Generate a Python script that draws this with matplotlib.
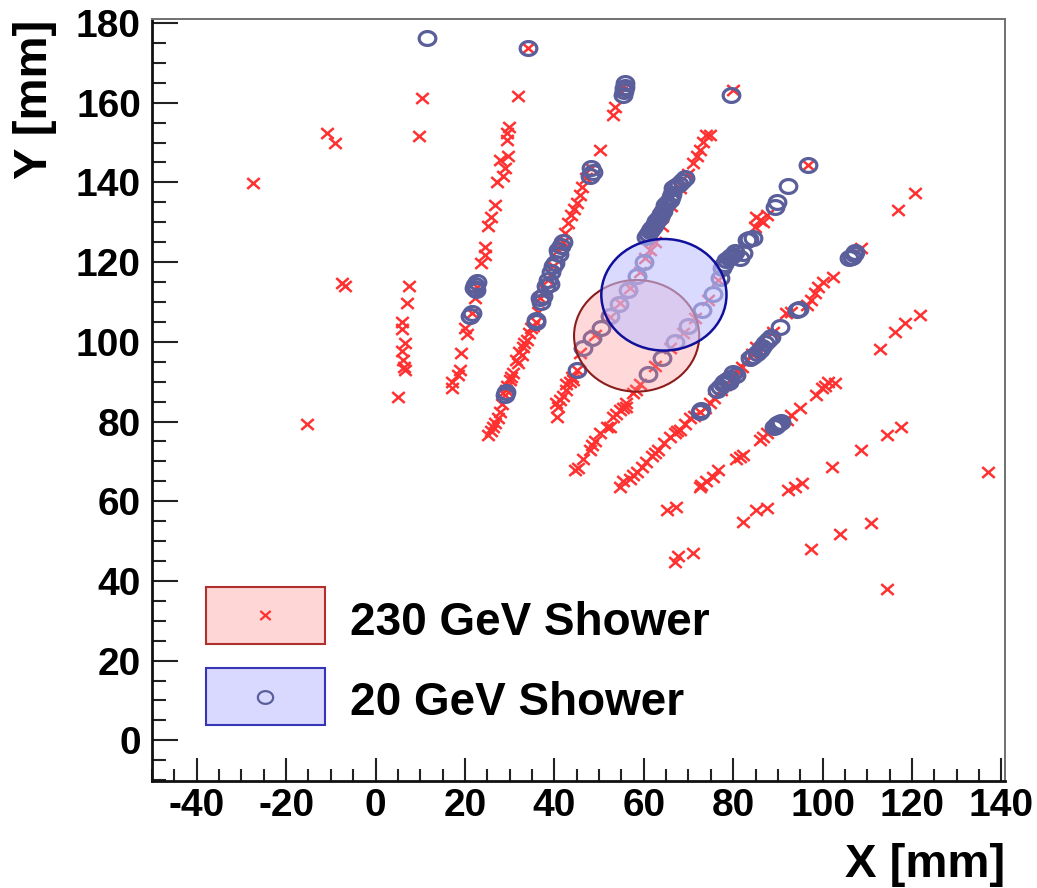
import numpy as np
import matplotlib
matplotlib.use('Agg')
import matplotlib.pyplot as plt
from matplotlib.path import Path
from matplotlib.patches import Circle, Rectangle
from matplotlib.ticker import MultipleLocator

plt.rcParams['font.family'] = ['Liberation Sans', 'DejaVu Sans']
plt.rcParams['font.weight'] = 'bold'
plt.rcParams['axes.unicode_minus'] = False

# ---------------- data (mm) ----------------
# 230 GeV shower hits (red crosses)
red_pts = [
    # sparse
    (-27.4, 139.8), (-15.4, 79.5), (-10.8, 152.4), (-9.1, 150.0), (-7.6, 114.8), (-6.9, 113.9),
    (10.5, 161.2), (9.7, 151.7), (31.9, 161.6), (34.1, 173.7), (5.1, 86.1),
    # track A
    (7.5, 114.0), (7.1, 109.8), (6.0, 105.0), (6.0, 103.1), (6.6, 99.6), (6.0, 97.6),
    (6.2, 95.4), (6.3, 93.6), (6.5, 92.9),
    # track B
    (29.9, 154.0), (29.5, 152.5), (29.5, 150.7), (29.7, 146.7), (27.8, 145.7), (28.9, 143.6),
    (28.4, 141.6), (27.1, 140.0), (26.7, 134.4), (25.9, 131.4), (25.2, 129.1), (24.4, 123.9),
    (24.4, 121.8), (23.6, 119.9), (22.6, 113.8), (22.2, 110.9), (21.5, 107.2), (20.0, 103.4),
    (20.4, 101.9), (19.2, 97.3), (18.9, 92.9), (18.5, 91.7), (17.0, 90.0), (17.0, 88.3),
    # track C
    (25.2, 76.6), (25.8, 77.5), (26.3, 78.7), (26.8, 79.7), (27.4, 80.8), (27.8, 82.4),
    (28.3, 84.5), (28.9, 86.6), (29.2, 88.0), (29.5, 89.0), (30.0, 90.4), (30.4, 91.2),
    (30.8, 92.1), (31.4, 95.5), (31.9, 94.6), (32.2, 97.5), (32.7, 96.7), (33.0, 98.8),
    (33.3, 99.6), (33.8, 100.5), (34.3, 102.2), (34.8, 103.5), (35.2, 104.0), (35.9, 105.0),
    (36.3, 107.5), (36.8, 110.9), (37.9, 113.0), (38.6, 115.5), (39.2, 117.0), (39.7, 118.9),
    (40.8, 123.1), (41.5, 124.5), (42.0, 125.1), (42.3, 127.2), (43.1, 129.8), (43.8, 131.8),
    (44.4, 133.3), (45.0, 134.8), (45.7, 136.9), (46.1, 138.9), (47.0, 141.0), (48.3, 143.6),
    (50.2, 148.2), (53.1, 157.0), (53.5, 159.0), (55.0, 162.8), (55.4, 164.1),
    # track D
    (40.5, 81.2), (40.4, 84.6), (40.8, 83.7), (41.2, 85.3), (41.9, 86.4), (42.7, 87.9),
    (42.7, 89.3), (43.5, 89.8), (44.2, 90.4), (43.9, 91.2), (45.0, 92.9),
    (45.7, 97.2), (49.0, 101.7), (52.4, 106.2), (54.6, 109.7), (56.9, 113.5), (59.1, 117.5),
    (60.3, 121.0), (61.5, 123.0), (62.5, 125.0), (64.0, 129.0), (66.0, 134.0), (68.2, 138.5),
    (69.9, 142.1), (71.0, 144.8), (72.0, 146.5), (72.5, 148.2), (73.2, 150.2), (74.0, 151.9),
    (74.8, 151.9),
    # track E
    (44.6, 67.8), (45.2, 68.3), (46.5, 70.5), (47.9, 72.8), (48.5, 74.0), (49.0, 75.0),
    (50.2, 77.0), (51.7, 78.7), (52.4, 78.7), (53.1, 81.2), (53.8, 81.8), (54.6, 82.9),
    (55.3, 83.5), (56.1, 83.7), (56.1, 84.6), (57.6, 87.1), (58.3, 88.0), (59.1, 89.4),
    (62.5, 93.9), (65.8, 98.4), (68.7, 102.2), (71.4, 106.0), (74.3, 110.5), (76.6, 115.5),
    (84.8, 128.9), (85.2, 131.4), (85.9, 130.6), (86.6, 130.1), (87.5, 131.8), (96.8, 144.4),
    (80.0, 163.2),
    # track F
    (54.6, 63.6), (55.3, 65.0), (56.9, 65.7), (57.7, 66.5), (58.4, 67.4), (59.5, 68.7),
    (60.6, 69.9), (61.8, 71.3), (62.5, 72.0), (63.2, 72.8), (64.5, 74.5), (65.8, 76.2),
    (66.9, 77.1), (67.5, 77.5), (68.1, 77.9), (69.2, 79.3), (70.3, 80.8), (71.2, 81.5),
    (72.5, 82.4), (73.6, 83.5), (74.8, 84.6), (75.8, 86.0), (77.2, 88.0), (78.1, 89.2),
    (79.2, 90.5), (80.8, 92.8), (81.9, 93.8), (83.0, 95.4), (84.2, 97.0), (85.2, 98.8),
    (89.0, 102.5), (91.9, 107.2), (93.0, 107.5), (96.4, 109.2), (97.3, 110.5), (98.3, 112.2),
    (99.0, 113.8), (100.1, 115.1), (102.3, 116.3), (108.7, 123.5),
    # track G
    (72.5, 63.6), (72.9, 64.0), (74.0, 65.0), (75.5, 66.1), (76.6, 67.8), (80.7, 70.7),
    (81.5, 71.2), (82.2, 71.6), (86.0, 75.3), (86.7, 76.0), (87.5, 77.0), (92.0, 80.5),
    (93.0, 81.6), (94.9, 83.3), (98.6, 86.6), (99.8, 88.3), (100.5, 89.0), (101.2, 90.0),
    (102.7, 89.6),
    # outer hits
    (65.1, 57.8), (67.3, 58.6), (66.9, 44.8), (67.7, 46.2), (70.9, 47.1), (82.1, 54.8),
    (85.2, 57.8), (87.5, 58.2), (92.3, 62.8), (93.8, 63.5), (95.3, 64.5), (97.5, 47.9),
    (102.0, 68.6), (104.0, 51.7), (108.7, 72.8), (110.9, 54.6), (114.3, 76.6), (114.5, 38.1),
    (117.6, 78.7), (112.8, 98.1), (116.1, 102.5), (118.4, 104.6), (121.8, 106.7), (116.9, 133.1),
    (120.6, 137.3), (137.0, 67.4),
]
red_x = [p[0] for p in red_pts]
red_y = [p[1] for p in red_pts]

# 20 GeV shower hits (blue circles)
blue_pts = [
    (11.4, 176.2), (34.1, 173.7),
    (22.0, 113.5), (22.3, 114.3), (22.6, 115.0), (22.4, 113.0), (21.5, 107.3), (21.2, 106.6),
    (28.9, 86.6), (29.2, 87.4), (35.9, 105.0), (36.0, 105.5), (36.8, 110.9), (37.1, 110.0),
    (37.5, 111.5), (38.2, 114.0), (38.6, 115.5), (39.0, 114.5), (39.3, 117.5), (39.7, 118.9),
    (40.2, 119.8), (40.8, 123.1), (41.0, 122.0), (41.4, 124.0), (42.0, 125.1), (48.3, 143.6),
    (48.0, 141.7), (48.6, 142.7), (55.3, 162.0), (55.5, 163.0), (55.7, 164.0), (55.9, 165.0),
    (55.6, 163.6),
    (45.0, 92.9),
    (46.5, 98.5), (48.5, 101.0), (50.5, 103.5), (52.5, 106.5), (54.5, 109.5), (56.5, 113.0),
    (58.5, 116.5), (60.0, 120.0),
    (60.6, 126.4), (61.0, 127.0), (61.3, 127.7), (61.7, 128.3), (62.1, 128.9), (62.4, 129.5),
    (62.8, 130.2), (63.2, 130.8), (63.6, 131.4), (63.9, 132.0), (64.2, 132.8), (64.7, 134.4),
    (65.2, 134.9), (65.8, 135.6), (66.0, 136.3), (66.3, 137.0), (66.6, 138.5), (67.2, 139.0),
    (67.8, 139.6), (68.5, 140.3), (69.2, 141.1),
    (61.0, 92.0), (64.0, 96.0), (67.0, 100.0), (70.0, 104.0), (73.0, 108.0), (75.5, 112.0),
    (77.0, 116.0),
    (77.5, 118.5), (78.0, 119.5), (78.5, 120.5), (79.0, 121.0), (79.5, 121.5), (80.0, 121.8),
    (80.5, 122.5), (81.5, 121.0), (82.2, 122.2), (83.0, 125.6), (83.6, 125.8), (84.5, 126.0),
    (89.3, 133.9), (89.7, 135.2), (92.3, 139.0), (96.8, 144.4),
    (79.6, 162.0),
    (72.5, 82.4), (72.8, 83.0), (76.3, 87.9), (77.0, 88.6), (77.8, 89.4), (78.0, 89.9),
    (78.6, 90.3), (79.0, 90.0), (79.3, 91.0), (80.0, 92.1), (80.6, 91.6), (83.7, 95.9),
    (84.5, 96.5), (85.3, 97.3), (86.0, 97.9), (86.5, 98.8), (87.2, 99.8), (87.8, 100.5),
    (88.5, 101.3), (90.4, 103.8), (94.2, 108.0), (94.8, 108.3), (106.0, 121.0), (106.5, 121.4),
    (107.0, 122.0), (107.3, 122.5),
    (89.2, 78.6), (89.5, 79.0), (89.9, 79.3), (90.3, 79.6), (90.6, 80.0),
]
blue_x = [p[0] for p in blue_pts]
blue_y = [p[1] for p in blue_pts]

# shower centre estimates (x, y) and radius
red_centre = (58.4, 101.5)
blue_centre = (64.5, 111.8)
radius = 14.0

labels = ["230 GeV Shower", "20 GeV Shower"]
x_label = "X [mm]"
y_label = "Y [mm]"

# ---------------- styles ----------------
RED = '#ff3030'
BLUE = '#5a5e9a'

t = np.linspace(0, 2 * np.pi, 41)
ell_marker = Path(np.column_stack([1.2 * np.cos(t), np.sin(t)]), closed=True)
x_marker = Path([[-1.15, -1], [1.15, 1], [-1.15, 1], [1.15, -1]],
                [Path.MOVETO, Path.LINETO, Path.MOVETO, Path.LINETO])

fig = plt.figure(figsize=(10.37, 8.88), dpi=100)
ax = fig.add_axes([0.14658, 0.12050, 0.82257, 0.85811])

ax.plot(red_x, red_y, ls='none', marker=x_marker, ms=9.0, mfc='none', mec=RED, mew=1.8, zorder=2)
ax.plot(blue_x, blue_y, ls='none', marker=ell_marker, ms=12, mfc='none', mec=BLUE, mew=2.3, zorder=3)

ax.add_patch(Circle(red_centre, radius, facecolor=(1, 0.55, 0.55, 0.33), edgecolor='none', zorder=4))
ax.add_patch(Circle(red_centre, radius, fill=False, edgecolor='#8b1c1c', lw=1.5, zorder=4))
ax.add_patch(Circle(blue_centre, radius, facecolor=(1, 1, 1, 0.4), edgecolor='none', zorder=5))
ax.add_patch(Circle(blue_centre, radius, facecolor=(0.55, 0.55, 1, 0.32), edgecolor='none', zorder=5))
ax.add_patch(Circle(blue_centre, radius, fill=False, edgecolor='#10109a', lw=1.8, zorder=5))

ax.set_xlim(-50, 140.8)
ax.set_ylim(-10.2, 181)

ax.xaxis.set_major_locator(MultipleLocator(20))
ax.xaxis.set_minor_locator(MultipleLocator(5))
ax.yaxis.set_major_locator(MultipleLocator(20))
ax.yaxis.set_minor_locator(MultipleLocator(5))
ax.tick_params(which='both', direction='in', top=False, right=False, width=1.5, color='#222222')
ax.tick_params(axis='x', which='major', length=16.5, pad=5, labelsize=28)
ax.tick_params(axis='x', which='minor', length=8.5)
ax.tick_params(axis='y', which='major', length=18.5, pad=8, labelsize=28)
ax.tick_params(axis='y', which='minor', length=10)

for s in ('left', 'bottom'):
    ax.spines[s].set_linewidth(2.0)
    ax.spines[s].set_color('#111111')
for s in ('top', 'right'):
    ax.spines[s].set_linewidth(1.4)
    ax.spines[s].set_color('#707070')

# legend (ROOT style boxes)
boxes = [((0.0629, 0.1798), (1, 0.84, 0.84), '#b03030', RED, x_marker, 7.5, 0.2178, 0.1916),
         ((0.0629, 0.0735), (0.85, 0.85, 1), '#3535b5', BLUE, ell_marker, 11.0, 0.1106, 0.0866)]
for (xy, fc, ec, mc, mk, ms, my, ty), lab in zip(boxes, labels):
    ax.add_patch(Rectangle(xy, 0.1399, 0.0752, transform=ax.transAxes, facecolor=fc,
                           edgecolor=ec, lw=1.5, zorder=6))
    ax.plot([0.1329], [my], transform=ax.transAxes, ls='none', marker=mk, ms=ms, mfc='none',
            mec=mc, mew=1.6, zorder=7)
    ax.text(0.2321, ty, lab, transform=ax.transAxes, fontsize=33, fontweight='bold',
            ha='left', va='baseline', zorder=7)

fig.text(1005 / 1037, 1 - 877 / 888, x_label, fontsize=34, fontweight='bold', ha='right', va='baseline')
fig.text(35 / 1037, 1 - 20 / 888, y_label, fontsize=34, fontweight='bold', rotation=90,
         ha='center', va='top')

fig.savefig('out.png', dpi=100)
